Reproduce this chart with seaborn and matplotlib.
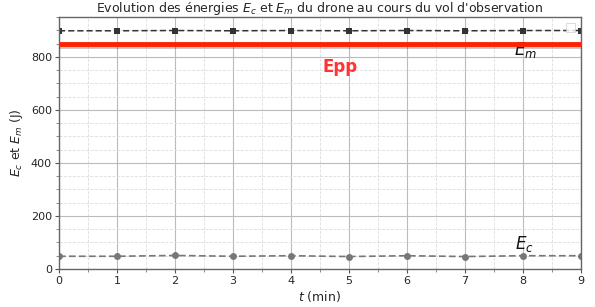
import matplotlib
matplotlib.use("Agg")
import matplotlib.pyplot as plt
import matplotlib.patheffects as pe
from matplotlib.ticker import MultipleLocator
import numpy as np
import pandas as pd
import seaborn as sns

# Data
t_min = [0, 1, 2, 3, 4, 5, 6, 7, 8, 9]
Ec = [48, 48, 51, 48, 50, 47, 50, 47, 50, 50]
Em = [898, 898, 899, 898, 899, 898, 899, 898, 899, 899]
Epp = 850

df = pd.DataFrame({"t": t_min, "Ec": Ec, "Em": Em})

sns.set_theme(style="whitegrid")
plt.rcParams['font.family'] = ['DejaVu Sans']
plt.rcParams['mathtext.fontset'] = 'dejavusans'

fig = plt.figure(figsize=(5.95, 3.07), dpi=100)
ax = fig.add_axes([59/595, 38/307, 522/595, 252/307])
ax.set_facecolor("white")

sns.lineplot(data=df, x="t", y="Em", ax=ax, color="#333333", linestyle=(0, (4, 2)),
             marker="s", markersize=4, linewidth=1.1, markeredgewidth=0)
sns.lineplot(data=df, x="t", y="Ec", ax=ax, color="#777777", linestyle=(0, (4, 2)),
             marker="o", markersize=5, linewidth=1.2, markeredgewidth=0)

ax.axhline(Epp, color="#ff2200", linewidth=3.5, zorder=3,
           path_effects=[pe.SimpleLineShadow(offset=(0, -1.5), alpha=0.25), pe.Normal()])

ax.text(4.55, 742, "Epp", color="#ff3333", fontsize=12, fontweight="bold")
ax.text(7.84, 808, "$E_m$", color="#111111", fontsize=12, zorder=2.5)
ax.text(7.86, 76, "$E_c$", color="#111111", fontsize=12)

ax.set_xlim(0, 9)
ax.set_ylim(0, 950)
ax.xaxis.set_major_locator(MultipleLocator(1))
ax.xaxis.set_minor_locator(MultipleLocator(0.5))
ax.yaxis.set_major_locator(MultipleLocator(200))
ax.yaxis.set_minor_locator(MultipleLocator(50))

ax.grid(which="major", color="#bbbbbb", linestyle="-", linewidth=0.8)
ax.grid(which="minor", color="#dddddd", linestyle="--", linewidth=0.6)

ax.tick_params(axis="both", which="major", labelsize=8, length=3, width=0.8,
               color="#555555", direction="out", bottom=True, left=True, pad=2)
ax.tick_params(axis="both", which="minor", length=2, width=0.6,
               color="#777777", direction="out", bottom=True, left=True)

for s in ax.spines.values():
    s.set_color("#666666")
    s.set_linewidth(1.0)

ax.set_xlabel("$t$ (min)", fontsize=9, labelpad=2)
ax.set_ylabel("$E_c$ et $E_m$ (J)", fontsize=9, labelpad=4)
ax.set_title("Evolution des énergies $E_c$ et $E_m$ du drone au cours du vol d'observation",
             fontsize=9, pad=3)

leg = ax.legend(handles=[], loc="upper right", frameon=True, fancybox=False,
                borderpad=0.3, borderaxespad=0.4)
leg.get_frame().set_edgecolor("#cccccc")
leg.get_frame().set_linewidth(0.6)

fig.savefig("out.png", dpi=100)
